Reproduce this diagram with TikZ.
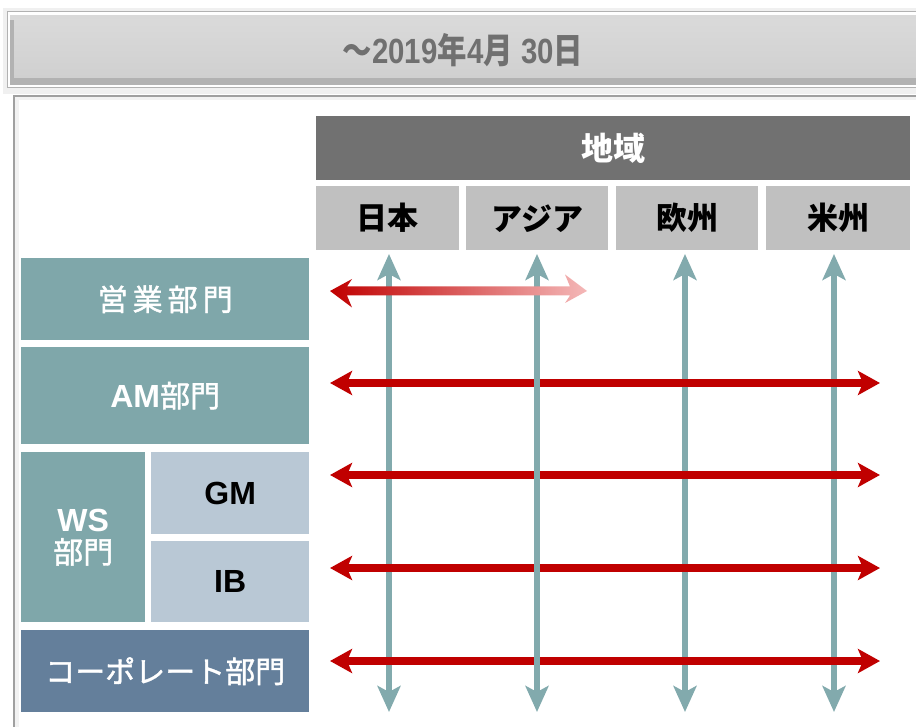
\documentclass[tikz,border=0pt]{standalone}
\usepackage{fontspec}
\setmainfont{Liberation Sans}
\newfontfamily\jpf{Noto Sans CJK JP}
\newfontfamily\jpm{Noto Sans CJK JP}[FakeBold=1.4]
\usetikzlibrary{arrows.meta}
\definecolor{tealbox}{RGB}{127,167,170}
\definecolor{subbox}{RGB}{185,200,213}
\definecolor{corpbox}{RGB}{100,127,155}
\definecolor{headbox}{RGB}{113,113,113}
\definecolor{regbox}{RGB}{192,192,192}
\definecolor{tealarrow}{RGB}{130,170,173}
\definecolor{redarrow}{RGB}{192,0,0}
\definecolor{pinkend}{RGB}{244,184,184}
\definecolor{titlegray}{RGB}{112,112,112}
\definecolor{bevel}{RGB}{178,178,178}
\definecolor{face}{RGB}{208,208,208}
\definecolor{framegray}{RGB}{160,160,160}
\begin{document}
\begin{tikzpicture}[x=1pt,y=-1pt,
  cell/.style={rectangle, inner sep=0pt, anchor=north west, align=center, font=\bfseries},
  leftcell/.style={cell, fill=tealbox, text=white, font=\fontsize{32}{34}\selectfont\bfseries},
  wscell/.style={cell, fill=subbox, text=black, font=\fontsize{32}{34}\selectfont\bfseries},
  corpcell/.style={cell, fill=corpbox, text=white, font=\fontsize{32}{34}\selectfont\bfseries},
  headcell/.style={cell, fill=headbox, text=white, font=\fontsize{32}{34}\selectfont\bfseries},
  regcell/.style={cell, fill=regbox, text=black, font=\fontsize{31}{34}\selectfont\bfseries},
  vline/.style={draw=tealarrow, line width=6pt, {Stealth[length=26pt,width=23pt,inset=6pt]}-{Stealth[length=26pt,width=23pt,inset=6pt]}},
  hline/.style={draw=redarrow, line width=8.5pt, {Stealth[length=22pt,width=24pt,inset=5pt]}-{Stealth[length=22pt,width=24pt,inset=5pt]}}
]
\useasboundingbox (0,0) rectangle (916,727);

% title bar
\fill[gray!12] (3,8) rectangle (930,94);
\draw[gray!60, fill=white, line width=1pt] (7,12) rectangle (930,88);
\fill[bevel] (10,15) rectangle (930,85);
\fill[gray!30] (10,15) rectangle (930,20);
\shade[top color=face!80!white, bottom color=face] (14,20) rectangle (930,78);
\node[font=\fontsize{35}{38}\selectfont\bfseries, text=titlegray] (title) at (463,50)
  {\scalebox{0.84}[1]{{\jpf ～}2019{\jpf 年}4{\jpf 月} 30{\jpf 日}}};

% main panel frame
\fill[gray!10] (13,95) rectangle (930,100);
\fill[gray!10] (13,95) rectangle (19,730);
\draw[framegray, line width=2pt] (14,730) -- (14,96) -- (930,96);

% header
\node[headcell, minimum width=594pt, minimum height=64pt] (region) at (316,116) {\jpf 地域};
\node[regcell, minimum width=143pt, minimum height=64pt] (jp) at (316,186) {\jpf 日本};
\node[regcell, minimum width=142pt, minimum height=64pt] (asia) at (466,186) {\jpf アジア};
\node[regcell, minimum width=142pt, minimum height=64pt] (eu) at (616,186) {\jpf 欧州};
\node[regcell, minimum width=144pt, minimum height=64pt] (us) at (766,186) {\jpf 米州};

% left column
\node[leftcell, minimum width=288pt, minimum height=82pt] (sales) at (21,258) {{\jpm\mdseries\fontsize{30}{32}\selectfont 営\,業\,部\,門}};
\node[leftcell, minimum width=288pt, minimum height=97pt] (am) at (21,347) {AM{\jpm\mdseries\fontsize{30}{32}\selectfont 部門}};
\node[leftcell, minimum width=124pt, minimum height=170pt] (ws) at (21,452) {WS\\[-2pt]{\jpm\mdseries\fontsize{30}{32}\selectfont 部門}};
\node[wscell, minimum width=158pt, minimum height=82pt] (gm) at (151,452) {GM};
\node[wscell, minimum width=158pt, minimum height=81pt] (ib) at (151,541) {IB};
\node[corpcell, minimum width=288pt, minimum height=82pt] (corp) at (21,630) {{\jpm\mdseries\fontsize{30}{32}\selectfont コーポレート部門}};

% arrow end points
\coordinate (v1t) at (389,254); \coordinate (v1b) at (389,712);
\coordinate (v2t) at (537,254); \coordinate (v2b) at (537,712);
\coordinate (v3t) at (685,254); \coordinate (v3b) at (685,712);
\coordinate (v4t) at (834,254); \coordinate (v4b) at (834,712);
\foreach \r/\y in {b/383, c/475, d/568, e/661} {
  \coordinate (h\r l) at (330,\y); \coordinate (h\r r) at (880,\y);
}

\draw[vline] (v1t) -- (v1b);
\draw[vline] (v3t) -- (v3b);
\draw[vline] (v4t) -- (v4b);
\foreach \r in {b,c,d,e} \draw[hline] (h\r l) -- (h\r r);
\draw[vline] (v2t) -- (v2b);

% gradient arrow (sales row)
\coordinate (gal) at (330,291);
\coordinate (gar) at (587,291);
\shade[left color=redarrow, right color=pinkend]
  (gal) -- ++(22,-12) -- ++(-5,7.5) -- ([xshift=-17pt,yshift=4.5pt]gar) -- ++(-5,-12)
  -- (gar) -- ++(-22,12) -- ++(5,-7.5) -- ([xshift=17pt,yshift=-4.5pt]gal) -- ++(5,12) -- cycle;
\end{tikzpicture}
\end{document}
